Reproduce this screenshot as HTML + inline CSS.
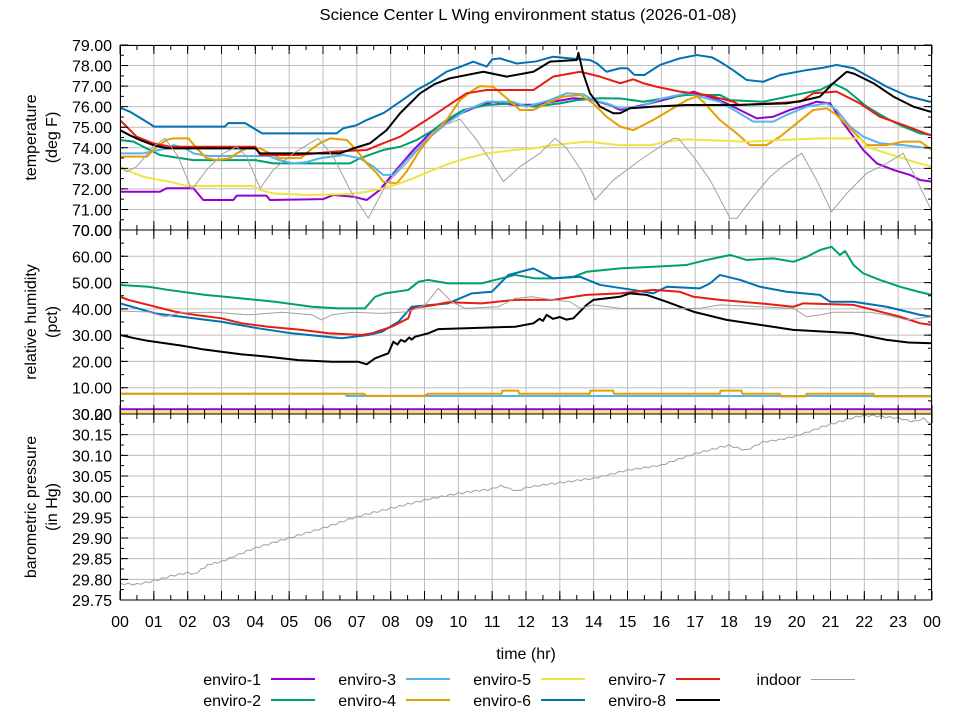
<!DOCTYPE html>
<html><head><meta charset="utf-8"><style>
html,body{margin:0;padding:0;background:#fff;}
svg{display:block;}
text{font-family:"Liberation Sans","DejaVu Sans",sans-serif;fill:#000;}
.d{fill:none;stroke-linejoin:round;vector-effect:non-scaling-stroke;}
</style></head><body>
<svg width="960" height="720" viewBox="0 0 960 720" xmlns="http://www.w3.org/2000/svg">
<defs>
<clipPath id="c1"><rect x="120" y="45" width="812" height="185"/></clipPath>
<clipPath id="c2"><rect x="120" y="230" width="812" height="184"/></clipPath>
<clipPath id="c3"><rect x="120" y="414" width="812" height="186"/></clipPath>
</defs>
<rect width="960" height="720" fill="#fff"/>

<!-- grids -->
<g stroke="#bdbdbd" fill="none">
<line x1="119.5" y1="137.5" x2="932.5" y2="137.5" stroke-width="185" stroke-dasharray="1 32.8333"/>
<line x1="526" y1="44.5" x2="526" y2="230.5" stroke-width="812" stroke-dasharray="1 19.5556"/>
<line x1="119.5" y1="322" x2="932.5" y2="322" stroke-width="184" stroke-dasharray="1 32.8333"/>
<line x1="526" y1="229.5" x2="526" y2="414.5" stroke-width="812" stroke-dasharray="1 25.2857"/>
<line x1="119.5" y1="507" x2="932.5" y2="507" stroke-width="186" stroke-dasharray="1 32.8333"/>
<line x1="526" y1="413.5" x2="526" y2="600.5" stroke-width="812" stroke-dasharray="1 19.6667"/>
</g>

<!-- temperature data -->
<g clip-path="url(#c1)"><g transform="matrix(33.8333,0,0,-20.5556,120,1668.89)">
<polyline class="d" stroke="#9400d3" stroke-width="2" points="0,71.86 1.18,71.86 1.38,72.03 2.17,72.03 2.46,71.46 3.35,71.46 3.45,71.67 4.33,71.67 4.43,71.46 6,71.5 6.3,71.7 6.9,71.62 7.29,71.46 7.68,71.95 8.08,72.76 8.67,73.89 9.26,74.86 9.85,75.51 10.54,76 11.03,76.24 11.63,76.08 12.22,76.1 12.8,76.24 13.4,76.41 13.9,76.35 14.48,76.08 14.78,75.84 15.47,76.08 16.26,76.41 16.95,76.73 17.54,76.41 17.93,76.16 18.42,75.76 18.82,75.43 19.31,75.51 19.8,75.84 20.3,76.08 20.59,76.24 20.99,76.16 21.38,75.19 21.68,74.54 21.97,73.89 22.37,73.24 22.86,72.92 23.35,72.68 23.65,72.43 24,72.35"/>
<polyline class="d" stroke="#009e73" stroke-width="2" points="0,74.38 0.4,74.3 0.69,74.05 1.18,73.65 2.17,73.4 4,73.4 4.53,73.24 6.8,73.24 7.09,73.49 7.78,73.89 8.28,74.05 8.77,74.38 9.26,74.86 9.65,75.35 10.15,75.84 10.84,76.08 11.63,76.16 12.22,76 13,76.16 13.5,76.32 14.19,76.41 14.78,76.4 15.47,76.24 15.76,76.32 16.75,76.57 17.73,76.57 18.03,76.32 19.01,76.24 20.2,76.65 20.69,76.81 21.08,77.14 21.48,76.81 22.07,76 22.66,75.43 23.15,75.03 23.65,74.7 24,74.62"/>
<polyline class="d" stroke="#56b4e9" stroke-width="2" points="0,73.73 0.69,73.73 1.38,73.97 1.58,74.13 1.9,74 2.17,73.73 2.6,73.6 4.4,73.6 4.7,73.4 5.12,73.24 5.5,73.3 5.91,73.49 6.6,73.65 7.09,73.49 7.49,73.08 7.78,72.68 8.08,72.68 8.57,73.57 9.06,74.38 9.65,75.19 10.24,75.84 10.84,76.24 11.6,76.24 12.02,76 12.71,76.32 13.2,76.65 13.7,76.6 13.99,76.32 14.38,76.16 14.78,75.92 15.37,76 16.06,76.41 16.75,76.65 17.34,76.41 17.73,76.24 18.23,75.76 18.72,75.27 19.31,75.27 19.7,75.6 20.3,76 20.89,76.16 21.18,75.84 21.58,75.03 21.97,74.54 22.46,74.22 23.15,74.13 23.94,73.97 24,73.97"/>
<polyline class="d" stroke="#e69f00" stroke-width="2" points="0,73.57 0.8,73.57 1.08,74.05 1.38,74.38 1.58,74.46 2.02,74.46 2.27,73.97 2.56,73.49 2.86,73.4 3.25,73.49 3.45,73.73 3.74,73.97 4.14,73.97 4.43,73.73 4.73,73.49 5.35,73.5 5.62,73.89 5.91,74.22 6.21,74.46 6.7,74.38 6.99,73.89 7.29,73.24 7.59,72.76 7.78,72.35 8.18,72.27 8.47,72.84 8.87,73.89 9.26,74.7 9.65,75.35 10.05,76.32 10.44,76.81 10.64,77 11.03,76.97 11.43,76.41 11.82,75.84 12.22,75.84 12.61,76.16 13.1,76.49 13.6,76.57 13.99,76.16 14.38,75.51 14.78,75.03 15.17,74.86 15.76,75.35 16.26,75.84 16.75,76.32 17.05,76.49 17.24,76.24 17.73,75.35 18.23,74.7 18.62,74.13 19.11,74.13 19.51,74.54 20,75.19 20.49,75.84 20.89,75.92 21.18,75.6 21.68,74.78 22.07,74.13 22.66,74.13 23.15,74.3 23.65,74.3 24,73.89"/>
<polyline class="d" stroke="#f0e442" stroke-width="2" points="0,73 0.3,72.84 0.69,72.59 1.18,72.43 1.48,72.35 1.97,72.14 3.94,72.14 4.14,71.95 4.53,71.78 5.52,71.7 6.8,71.75 7.29,71.86 7.78,72.03 8.28,72.27 8.77,72.59 9.26,72.92 9.75,73.24 10.24,73.49 10.84,73.73 11.63,73.89 12.22,73.97 12.8,74.13 13.79,74.3 14.78,74.13 15.7,74.13 16.16,74.3 16.75,74.41 18.52,74.3 20.69,74.46 21.87,74.46 22.07,74.05 22.66,73.73 23.15,73.49 23.45,73.32 24,73.08"/>
<polyline class="d" stroke="#0072b2" stroke-width="2" points="0,75.95 0.3,75.75 0.6,75.45 0.9,75.15 1,75.03 3.1,75.03 3.2,75.2 3.7,75.2 3.9,75 4.2,74.7 6.4,74.7 6.6,74.95 7,75.1 7.29,75.35 7.8,75.7 8.28,76.24 8.77,76.81 9.2,77.2 9.65,77.7 10,77.9 10.44,78.19 10.84,77.95 11,78.3 11.23,78.35 11.72,78.1 12.3,78.2 12.8,78.43 13.3,78.35 13.89,78.27 14.1,78.1 14.38,77.7 14.78,77.87 15,77.87 15.2,77.55 15.5,77.54 15.96,78.03 16.55,78.35 17.05,78.51 17.5,78.4 17.73,78.19 18.1,77.8 18.52,77.3 19.01,77.21 19.51,77.54 20.3,77.78 20.8,77.9 21.18,78.03 21.68,77.87 22.2,77.4 22.66,76.97 23.3,76.5 23.94,76.24 24,76.24"/>
<polyline class="d" stroke="#e51e10" stroke-width="2" points="0,75.35 0.49,74.54 0.98,74.22 1.48,74.05 4,74.05 4.14,73.65 5.3,73.65 6.3,73.81 7.29,73.89 7.78,74.22 8.28,74.54 9.06,75.35 9.65,76 10.24,76.65 10.84,76.81 12.22,76.81 12.8,77.46 13.6,77.7 14.19,77.46 14.78,77.14 15.17,77.33 15.47,77.14 15.86,76.97 16.55,76.73 17.34,76.57 18.13,76.24 18.3,76.08 19.21,76.16 20.1,76.24 20.49,76.65 21.18,76.73 21.87,76.16 22.46,75.51 23.15,75.11 23.94,74.62 24,74.62"/>
<polyline class="d" stroke="#000000" stroke-width="2" points="0,74.86 0.3,74.6 0.59,74.38 0.98,74.13 1.4,73.97 4,73.97 4.14,73.73 6.5,73.73 6.9,73.97 7.39,74.22 7.88,74.86 8.28,75.68 8.87,76.65 9.3,77.1 9.75,77.38 10.74,77.7 11.43,77.46 12.22,77.7 12.71,78.19 13.5,78.27 13.55,78.62 13.69,77.62 13.89,76.65 14.19,76 14.58,75.68 14.78,75.68 15.07,75.92 15.76,76 16.75,76.08 18.23,76.08 19.7,76.16 20.2,76.3 20.69,76.49 21.08,77.14 21.48,77.7 21.7,77.6 22.27,77.14 22.86,76.49 23.45,76 23.94,75.76 24,75.76"/>
<polyline class="d" stroke="#a0a0a0" stroke-width="1" points="0,73.08 0.2,72.84 0.49,73.08 0.98,74.05 1.33,74.46 1.72,73.57 2.12,71.95 2.56,72.92 3.05,73.73 3.45,74.05 3.74,73.57 4.14,72.03 4.53,72.92 5.12,73.73 5.52,74.13 5.86,74.46 6.3,73.57 6.8,71.95 7.34,70.57 7.88,72.27 8.47,73.24 9.06,74.38 9.46,75.03 10.05,75.39 10.54,74.38 10.94,73.4 11.33,72.35 11.82,73.08 12.41,73.73 12.86,74.46 13.2,73.97 13.69,72.76 14.04,71.46 14.58,72.43 15.37,73.4 15.96,74.05 16.36,74.46 16.5,74.46 16.95,73.57 17.44,72.43 18.03,70.57 18.23,70.57 18.72,71.62 19.21,72.59 19.7,73.24 20.15,73.73 20.59,72.43 21.03,70.89 21.48,71.78 22.07,72.76 22.66,73.24 23.15,73.73 23.55,72.43 24,70.89"/>
</g></g>

<!-- humidity data -->
<g clip-path="url(#c2)"><g transform="matrix(33.8333,0,0,-2.62857,120,414)">
<polyline class="d" stroke="#9400d3" stroke-width="2" points="0,1.8 24,1.8"/>
<polyline class="d" stroke="#009e73" stroke-width="2" points="0,49.1 0.84,48.4 1.43,47.2 2.51,45.3 3.1,44.6 4.58,42.7 5.67,40.8 6.45,40.2 7.24,40.2 7.54,44.6 7.83,45.9 8.52,47.2 8.82,50.3 9.11,51 9.7,49.7 10.69,49.7 11.08,51 11.68,52.9 12.27,51.6 12.8,51.6 13.4,52.2 13.79,54.1 14.78,55.4 15.76,56 16.75,56.7 17.34,58.6 18.03,60.5 18.52,58.6 19.31,59.2 19.9,57.9 20.3,59.8 20.69,62.4 21.03,63.6 21.28,60.5 21.43,62 21.68,56.7 21.97,53.5 22.46,51 23.06,48.4 23.6,46.5 24,45.3"/>
<polyline class="d" stroke="#56b4e9" stroke-width="2" points="0,7.7 6.65,7.7 6.7,6.85 24,6.85"/>
<polyline class="d" stroke="#e69f00" stroke-width="2" points="0,7.7 7.2,7.7 7.3,6.9 9,6.9 9.1,7.7 11.28,7.7 11.3,8.9 11.77,8.9 11.8,7.7 13.89,7.7 13.9,8.9 14.58,8.9 14.6,7.7 17.73,7.7 17.75,8.9 18.37,8.9 18.4,7.7 19.5,7.7 19.55,6.7 20.25,6.7 20.3,7.7 22.27,7.7 22.3,6.7 24,6.7"/>
<polyline class="d" stroke="#f0e442" stroke-width="2" points="0,0.65 24,0.65"/>
<polyline class="d" stroke="#0072b2" stroke-width="2" points="0,42.1 1.03,38.3 1.82,37 3,35.1 4.09,32.6 5.07,30.7 6.55,28.8 7.34,30.05 7.74,31.3 8.23,35.1 8.62,40.8 9.7,42.1 10.4,45.9 10.99,46.5 11.48,52.9 12.22,55.4 12.8,51.6 13.6,52.2 14.19,49.1 15.17,47.2 15.76,45.9 16.16,48.4 17.14,47.8 17.44,49.7 17.73,52.9 18.33,51 18.92,48.4 19.7,46.5 20.69,45.3 20.99,42.7 21.68,42.7 22.66,40.8 23.65,37.7 24,37"/>
<polyline class="d" stroke="#e51e10" stroke-width="2" points="0,44.6 0.25,43.4 0.84,41.5 1.63,38.9 2.22,37.7 3,36.4 3.6,34.5 4.38,33.2 5.37,32 6.16,30.7 7.14,30.05 7.44,30.7 8.03,33.2 8.52,36.4 8.62,40.2 9.31,41.5 9.7,42.5 10.69,42.1 11.68,43.4 12.8,43.4 13.79,45.3 14.78,45.9 15.76,47.2 16.55,46.5 16.95,44.6 17.73,43.4 18.92,42.1 19.9,40.8 20.2,42.1 21.68,41.5 22.27,39.6 23.06,37 23.65,34.5 24,33.9"/>
<polyline class="d" stroke="#000000" stroke-width="2" points="0,30.05 0.44,28.8 0.84,27.8 1.33,26.9 1.82,26 2.41,24.7 3,23.7 3.6,22.7 4.38,21.8 5.27,20.5 6.26,19.9 7.04,19.9 7.29,18.9 7.54,21.2 7.93,23.1 8.08,27.5 8.2,26.4 8.3,28.2 8.42,27.5 8.55,29.1 8.62,28.3 8.72,29.4 9.11,30.7 9.41,32.3 10.69,32.8 11.68,33.2 12.22,34.5 12.4,36.2 12.5,35.4 12.61,37.7 12.8,36.2 13,36.9 13.2,35.9 13.4,36.4 13.79,41.5 13.99,43.4 14.78,44.6 15.07,45.9 15.57,45.3 16.16,42.7 16.95,38.9 17.93,35.8 18.92,33.9 19.9,32 20.89,31.3 21.68,30.7 22.66,28.2 23.3,27.2 24,26.9"/>
<polyline class="d" stroke="#a0a0a0" stroke-width="1" points="0,39.2 0.84,38.8 1.33,37 1.8,38.5 2.81,38.7 3.79,37.7 4.78,38.7 5.67,37.7 5.96,35.8 6.26,37.7 6.85,38.7 7.74,38.3 8.52,38.9 9.02,41.5 9.41,47.8 9.8,42.7 10.2,40.2 11.18,40.8 11.68,44 12.17,44.6 12.8,43.4 13.3,42.7 13.6,40.2 13.99,41.5 14.78,40.2 17.14,40.2 17.73,41.5 19.9,40.2 20.3,37 20.69,37.7 21.08,38.7 22.17,38.7 22.66,37.7 23.25,35.8 24,37"/>
</g></g>

<!-- pressure data -->
<g clip-path="url(#c3)"><g transform="matrix(33.8333,0,0,-413.333,120,12896.67)">
<polyline class="d" stroke="#a0a0a0" stroke-width="1" points="0,29.791 0.125,29.787 0.25,29.791 0.375,29.786 0.5,29.790 0.625,29.788 0.75,29.794 0.875,29.792 1,29.799 1.125,29.797 1.25,29.804 1.375,29.803 1.5,29.810 1.625,29.808 1.75,29.814 1.875,29.812 2,29.818 2.1,29.812 2.2,29.814 2.3,29.816 2.4,29.826 2.5,29.827 2.6,29.837 2.7,29.835 2.8,29.841 2.9,29.839 3,29.845 3.125,29.845 3.25,29.853 3.375,29.854 3.5,29.862 3.625,29.862 3.75,29.870 3.875,29.870 4,29.878 4.125,29.877 4.25,29.884 4.375,29.883 4.5,29.890 4.625,29.889 4.75,29.896 4.875,29.895 5,29.902 5.125,29.901 5.25,29.908 5.375,29.907 5.5,29.914 5.625,29.913 5.75,29.920 5.875,29.919 6,29.926 6.125,29.925 6.25,29.933 6.375,29.932 6.5,29.940 6.625,29.939 6.75,29.947 6.875,29.946 7,29.954 7.125,29.952 7.25,29.959 7.375,29.957 7.5,29.964 7.625,29.962 7.75,29.969 7.875,29.967 8,29.974 8.125,29.972 8.25,29.979 8.375,29.977 8.5,29.984 8.625,29.982 8.75,29.989 8.875,29.987 9,29.994 9.125,29.992 9.25,29.998 9.375,29.996 9.5,30.002 9.625,30.000 9.75,30.006 9.875,30.004 10,30.010 10.125,30.007 10.25,30.013 10.375,30.010 10.5,30.016 10.625,30.013 10.75,30.018 10.875,30.015 11,30.021 11.125,30.021 11.25,30.028 11.375,30.022 11.5,30.021 11.625,30.015 11.75,30.015 11.875,30.016 12,30.024 12.125,30.022 12.25,30.027 12.375,30.025 12.5,30.030 12.625,30.028 12.75,30.033 12.875,30.030 13,30.036 13.125,30.033 13.25,30.038 13.375,30.036 13.5,30.041 13.625,30.039 13.75,30.044 13.875,30.041 14,30.046 14.125,30.045 14.25,30.051 14.375,30.050 14.5,30.056 14.625,30.055 14.75,30.061 14.875,30.060 15,30.066 15.125,30.064 15.25,30.069 15.375,30.067 15.5,30.072 15.625,30.070 15.75,30.075 15.875,30.073 16,30.078 16.125,30.078 16.25,30.085 16.375,30.085 16.5,30.092 16.625,30.092 16.75,30.099 16.875,30.099 17,30.106 17.125,30.105 17.25,30.111 17.375,30.110 17.5,30.116 17.625,30.115 17.75,30.122 17.875,30.120 18,30.126 18.125,30.119 18.25,30.120 18.375,30.113 18.5,30.114 18.625,30.115 18.75,30.124 18.875,30.125 19,30.134 19.125,30.132 19.25,30.137 19.375,30.135 19.5,30.140 19.625,30.138 19.75,30.144 19.875,30.143 20,30.149 20.125,30.149 20.25,30.156 20.375,30.156 20.5,30.163 20.625,30.163 20.75,30.171 20.875,30.170 21,30.177 21.125,30.176 21.25,30.183 21.375,30.182 21.5,30.189 21.625,30.188 21.75,30.195 21.875,30.193 22,30.198 22.125,30.194 22.25,30.198 22.375,30.193 22.5,30.196 22.625,30.191 22.75,30.194 22.875,30.189 23,30.192 23.125,30.186 23.25,30.187 23.375,30.181 23.5,30.184 23.625,30.184 23.75,30.191 23.875,30.180 24,30.175"/>
</g></g>

<!-- borders -->
<g fill="none" stroke="#000" stroke-width="1">
<rect x="120.5" y="45.5" width="811" height="184.5"/>
<rect x="120.5" y="230" width="811" height="184"/>
<rect x="120.5" y="414" width="811" height="186"/>
</g>

<!-- ticks -->
<g stroke="#000" fill="none">
<!-- top panel -->
<line x1="119.5" y1="49.5" x2="932.5" y2="49.5" stroke-width="9" stroke-dasharray="1 32.8333"/>
<line x1="119.5" y1="47.5" x2="932.5" y2="47.5" stroke-width="5" stroke-dasharray="1 15.9167"/>
<line x1="119.5" y1="225.5" x2="932.5" y2="225.5" stroke-width="9" stroke-dasharray="1 32.8333"/>
<line x1="119.5" y1="227.5" x2="932.5" y2="227.5" stroke-width="5" stroke-dasharray="1 15.9167"/>
<line x1="124" y1="44.5" x2="124" y2="230.5" stroke-width="8" stroke-dasharray="1 19.5556"/>
<line x1="122" y1="44.5" x2="122" y2="230.5" stroke-width="4" stroke-dasharray="1 9.2778"/>
<line x1="928" y1="44.5" x2="928" y2="230.5" stroke-width="8" stroke-dasharray="1 19.5556"/>
<line x1="930" y1="44.5" x2="930" y2="230.5" stroke-width="4" stroke-dasharray="1 9.2778"/>
<!-- middle panel -->
<line x1="119.5" y1="234.5" x2="932.5" y2="234.5" stroke-width="9" stroke-dasharray="1 32.8333"/>
<line x1="119.5" y1="232.5" x2="932.5" y2="232.5" stroke-width="5" stroke-dasharray="1 15.9167"/>
<line x1="119.5" y1="409.5" x2="932.5" y2="409.5" stroke-width="9" stroke-dasharray="1 32.8333"/>
<line x1="119.5" y1="411.5" x2="932.5" y2="411.5" stroke-width="5" stroke-dasharray="1 15.9167"/>
<line x1="124" y1="229.5" x2="124" y2="414.5" stroke-width="8" stroke-dasharray="1 25.2857"/>
<line x1="122" y1="229.5" x2="122" y2="414.5" stroke-width="4" stroke-dasharray="1 12.1429"/>
<line x1="928" y1="229.5" x2="928" y2="414.5" stroke-width="8" stroke-dasharray="1 25.2857"/>
<line x1="930" y1="229.5" x2="930" y2="414.5" stroke-width="4" stroke-dasharray="1 12.1429"/>
<!-- bottom panel -->
<line x1="119.5" y1="418.5" x2="932.5" y2="418.5" stroke-width="9" stroke-dasharray="1 32.8333"/>
<line x1="119.5" y1="416.5" x2="932.5" y2="416.5" stroke-width="5" stroke-dasharray="1 15.9167"/>
<line x1="119.5" y1="595.5" x2="932.5" y2="595.5" stroke-width="9" stroke-dasharray="1 32.8333"/>
<line x1="119.5" y1="597.5" x2="932.5" y2="597.5" stroke-width="5" stroke-dasharray="1 15.9167"/>
<line x1="124" y1="413.5" x2="124" y2="600.5" stroke-width="8" stroke-dasharray="1 19.6667"/>
<line x1="122" y1="413.5" x2="122" y2="600.5" stroke-width="4" stroke-dasharray="1 9.3333"/>
<line x1="928" y1="413.5" x2="928" y2="600.5" stroke-width="8" stroke-dasharray="1 19.6667"/>
<line x1="930" y1="413.5" x2="930" y2="600.5" stroke-width="4" stroke-dasharray="1 9.3333"/>
</g>

<!-- title -->
<text x="528" y="20" font-size="16" text-anchor="middle" textLength="417" lengthAdjust="spacingAndGlyphs">Science Center L Wing environment status (2026-01-08)</text>

<!-- y tick labels -->
<g font-size="16" text-anchor="end">
<text x="112" y="51">79.00</text>
<text x="112" y="71.6">78.00</text>
<text x="112" y="92.1">77.00</text>
<text x="112" y="112.7">76.00</text>
<text x="112" y="133.2">75.00</text>
<text x="112" y="153.8">74.00</text>
<text x="112" y="174.3">73.00</text>
<text x="112" y="194.9">72.00</text>
<text x="112" y="215.4">71.00</text>
<text x="112" y="236">70.00</text>
<text x="112" y="236">70.00</text>
<text x="112" y="262.3">60.00</text>
<text x="112" y="288.6">50.00</text>
<text x="112" y="314.9">40.00</text>
<text x="112" y="341.1">30.00</text>
<text x="112" y="367.4">20.00</text>
<text x="112" y="393.7">10.00</text>
<text x="112" y="420">0.00</text>
<text x="112" y="420">30.20</text>
<text x="112" y="440.7">30.15</text>
<text x="112" y="461.3">30.10</text>
<text x="112" y="482">30.05</text>
<text x="112" y="502.7">30.00</text>
<text x="112" y="523.3">29.95</text>
<text x="112" y="544">29.90</text>
<text x="112" y="564.7">29.85</text>
<text x="112" y="585.3">29.80</text>
<text x="112" y="606">29.75</text>
</g>

<!-- x tick labels -->
<g font-size="16" text-anchor="middle">
<text x="120" y="627">00</text>
<text x="153.8" y="627">01</text>
<text x="187.7" y="627">02</text>
<text x="221.5" y="627">03</text>
<text x="255.3" y="627">04</text>
<text x="289.2" y="627">05</text>
<text x="323" y="627">06</text>
<text x="356.8" y="627">07</text>
<text x="390.7" y="627">08</text>
<text x="424.5" y="627">09</text>
<text x="458.3" y="627">10</text>
<text x="492.2" y="627">11</text>
<text x="526" y="627">12</text>
<text x="559.8" y="627">13</text>
<text x="593.7" y="627">14</text>
<text x="627.5" y="627">15</text>
<text x="661.3" y="627">16</text>
<text x="695.2" y="627">17</text>
<text x="729" y="627">18</text>
<text x="762.8" y="627">19</text>
<text x="796.7" y="627">20</text>
<text x="830.5" y="627">21</text>
<text x="864.3" y="627">22</text>
<text x="898.2" y="627">23</text>
<text x="932" y="627">00</text>
<text x="526" y="659">time (hr)</text>
</g>

<!-- y axis titles -->
<g font-size="16" text-anchor="middle">
<text transform="translate(36,137.5) rotate(-90)">temperature</text>
<text transform="translate(57,137.5) rotate(-90)">(deg F)</text>
<text transform="translate(36,322) rotate(-90)">relative humidity</text>
<text transform="translate(57,322) rotate(-90)">(pct)</text>
<text transform="translate(36,507) rotate(-90)">barometric pressure</text>
<text transform="translate(57,507) rotate(-90)">(in Hg)</text>
</g>

<!-- legend -->
<g font-size="16" text-anchor="end">
<text x="261" y="685">enviro-1</text>
<text x="261" y="706">enviro-2</text>
<text x="396" y="685">enviro-3</text>
<text x="396" y="706">enviro-4</text>
<text x="531" y="685">enviro-5</text>
<text x="531" y="706">enviro-6</text>
<text x="666" y="685">enviro-7</text>
<text x="666" y="706">enviro-8</text>
<text x="801" y="685">indoor</text>
</g>
<g fill="none">
<line x1="271" y1="679" x2="315" y2="679" stroke="#9400d3" stroke-width="2"/>
<line x1="271" y1="700" x2="315" y2="700" stroke="#009e73" stroke-width="2"/>
<line x1="406" y1="679" x2="450" y2="679" stroke="#56b4e9" stroke-width="2"/>
<line x1="406" y1="700" x2="450" y2="700" stroke="#e69f00" stroke-width="2"/>
<line x1="541" y1="679" x2="585" y2="679" stroke="#f0e442" stroke-width="2"/>
<line x1="541" y1="700" x2="585" y2="700" stroke="#0072b2" stroke-width="2"/>
<line x1="676" y1="679" x2="720" y2="679" stroke="#e51e10" stroke-width="2"/>
<line x1="676" y1="700" x2="720" y2="700" stroke="#000000" stroke-width="2"/>
<line x1="811" y1="679.5" x2="855" y2="679.5" stroke="#a0a0a0" stroke-width="1"/>
</g>
</svg>
</body></html>
